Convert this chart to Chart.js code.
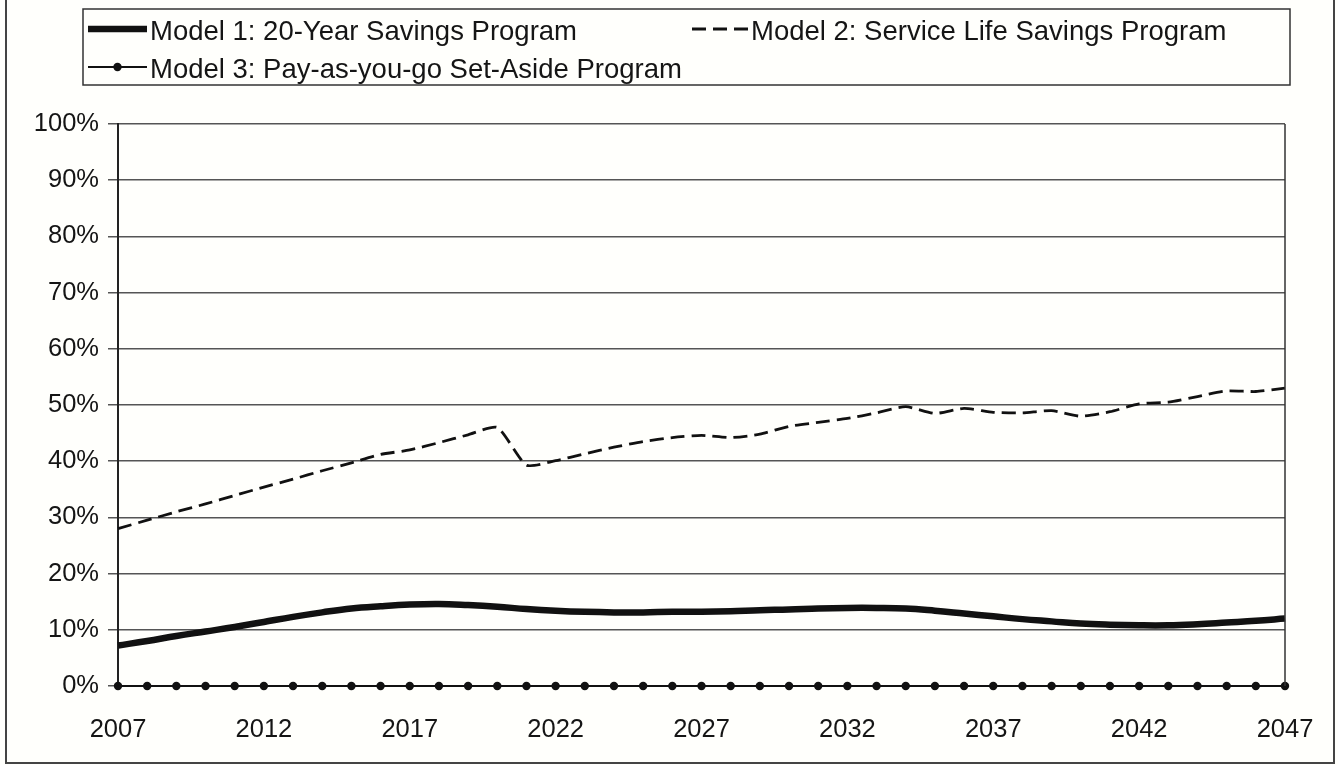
<!DOCTYPE html>
<html>
<head>
<meta charset="utf-8">
<script src="https://cdn.jsdelivr.net/npm/chart.js@4/dist/chart.umd.min.js"></script>
<style>
html,body{margin:0;padding:0;background:#fffffc;}
#wrap{width:1338px;height:765px;position:relative;}
</style>
</head>
<body>
<div id="wrap"><canvas id="c" width="1338" height="765"></canvas></div>
<script>
const years = ['2007','2008','2009','2010','2011','2012','2013','2014','2015','2016',
  '2017','2018','2019','2020','2021','2022','2023','2024','2025','2026',
  '2027','2028','2029','2030','2031','2032','2033','2034','2035','2036',
  '2037','2038','2039','2040','2041','2042','2043','2044','2045','2046','2047'];

const model1 = [7.2, 8.0, 8.9, 9.7, 10.5, 11.4, 12.3, 13.1, 13.8, 14.2,
  14.5, 14.6, 14.4, 14.1, 13.7, 13.4, 13.2, 13.1, 13.1, 13.2,
  13.2, 13.3, 13.5, 13.6, 13.8, 13.9, 13.9, 13.8, 13.4, 12.9,
  12.4, 11.9, 11.5, 11.1, 10.9, 10.8, 10.8, 11.0, 11.3, 11.6, 12.0];

const model2 = [28.0, 29.5, 31.0, 32.4, 33.9, 35.4, 36.8, 38.3, 39.7, 41.2,
  42.0, 43.3, 44.7, 46.0, 39.3, 40.1, 41.3, 42.5, 43.5, 44.2,
  44.6, 44.2, 44.8, 46.2, 46.9, 47.6, 48.6, 49.7, 48.5, 49.4,
  48.7, 48.6, 49.0, 48.0, 48.8, 50.2, 50.5, 51.5, 52.5, 52.4, 53.0];

const model3 = [0, 0, 0, 0, 0, 0, 0, 0, 0, 0,
  0, 0, 0, 0, 0, 0, 0, 0, 0, 0,
  0, 0, 0, 0, 0, 0, 0, 0, 0, 0,
  0, 0, 0, 0, 0, 0, 0, 0, 0, 0, 0];

const seriesLabels = ['Model 1: 20-Year Savings Program',
  'Model 2: Service Life Savings Program',
  'Model 3: Pay-as-you-go Set-Aside Program'];

const yTickValues = [0, 10, 20, 30, 40, 50, 60, 70, 80, 90, 100];
const xTickLabels = ['2007','2012','2017','2022','2027','2032','2037','2042','2047'];

const FONT = '"Liberation Sans", Arial, sans-serif';
const INK = '#111111';

const framePlugin = {
  id: 'frame',
  beforeDraw(chart) {
    const ctx = chart.ctx;
    ctx.save();
    ctx.fillStyle = '#fffffc';
    ctx.fillRect(0, 0, chart.width, chart.height);
    ctx.restore();
  },
  afterDraw(chart) {
    const ctx = chart.ctx;
    const a = chart.chartArea;
    ctx.save();
    ctx.strokeStyle = '#333';
    ctx.lineWidth = 1.5;
    ctx.beginPath();
    ctx.moveTo(a.right, a.top);
    ctx.lineTo(a.right, a.bottom);
    ctx.stroke();
    ctx.strokeStyle = '#444';
    ctx.lineWidth = 2;
    ctx.beginPath();
    ctx.moveTo(6, 0); ctx.lineTo(6, 763);
    ctx.lineTo(1334, 763); ctx.lineTo(1334, 0);
    ctx.stroke();
    ctx.strokeStyle = '#333';
    ctx.lineWidth = 1.5;
    ctx.strokeRect(83, 9, 1207, 76);
    const ds = chart.data.datasets;
    const pos = [
      {x: 88, y: 31},
      {x: 692, y: 31},
      {x: 88, y: 69}
    ];
    const sampleW = [59, 56, 59];
    ctx.font = '27.5px ' + FONT;
    ctx.textBaseline = 'middle';
    ds.forEach((d, i) => {
      const p = pos[i];
      const w = sampleW[i];
      ctx.strokeStyle = d.borderColor;
      ctx.lineWidth = d.borderWidth;
      ctx.setLineDash(d.borderDash || []);
      ctx.beginPath();
      ctx.moveTo(p.x, p.y - 2);
      ctx.lineTo(p.x + w, p.y - 2);
      ctx.stroke();
      ctx.setLineDash([]);
      if (d.pointRadius > 0) {
        ctx.fillStyle = d.pointBackgroundColor;
        ctx.beginPath();
        ctx.arc(p.x + w / 2, p.y - 2, d.pointRadius, 0, Math.PI * 2);
        ctx.fill();
      }
      ctx.fillStyle = '#151515';
      ctx.fillText(d.label, p.x + w + 3, p.y + 1);
    });
    ctx.restore();
  }
};

new Chart(document.getElementById('c'), {
  type: 'line',
  data: {
    labels: years,
    datasets: [
      {
        label: seriesLabels[0],
        data: model1,
        borderColor: INK,
        borderWidth: 6.5,
        pointRadius: 0,
        tension: 0.4,
        clip: false
      },
      {
        label: seriesLabels[1],
        data: model2,
        borderColor: INK,
        borderWidth: 2.8,
        borderDash: [14, 7],
        pointRadius: 0,
        tension: 0.2,
        clip: false
      },
      {
        label: seriesLabels[2],
        data: model3,
        borderColor: INK,
        borderWidth: 2.2,
        pointRadius: 4.2,
        pointBackgroundColor: INK,
        pointBorderWidth: 0,
        tension: 0,
        clip: false
      }
    ]
  },
  options: {
    responsive: false,
    animation: false,
    devicePixelRatio: 1,
    layout: { padding: { left: 0, right: 53, top: 124, bottom: 19 } },
    plugins: {
      legend: { display: false },
      tooltip: { enabled: false }
    },
    scales: {
      x: {
        type: 'category',
        offset: false,
        grid: { display: false, drawTicks: false },
        border: { display: true, color: INK, width: 2 },
        ticks: {
          autoSkip: false,
          maxRotation: 0,
          padding: 29,
          color: '#151515',
          font: { family: FONT, size: 25.5 },
          callback: function(v, i) {
            const l = years[i];
            return xTickLabels.includes(l) ? l : '';
          }
        },
        afterFit: function(s) { s.height = 60; s.paddingLeft = 0; s.paddingRight = 0; }
      },
      y: {
        min: 0,
        max: 100,
        afterBuildTicks: function(s) { s.ticks = yTickValues.map(v => ({value: v})); },
        grid: { color: '#555', lineWidth: 1.5, tickLength: 10, drawTicks: true },
        border: { display: true, color: '#222', width: 2 },
        ticks: {
          padding: 9,
          color: '#151515',
          font: { family: FONT, size: 25.5 },
          callback: v => v + '%'
        },
        afterFit: function(s) { s.width = 118; s.paddingTop = 0; s.paddingBottom = 0; }
      }
    }
  },
  plugins: [framePlugin]
});
</script>
</body>
</html>
